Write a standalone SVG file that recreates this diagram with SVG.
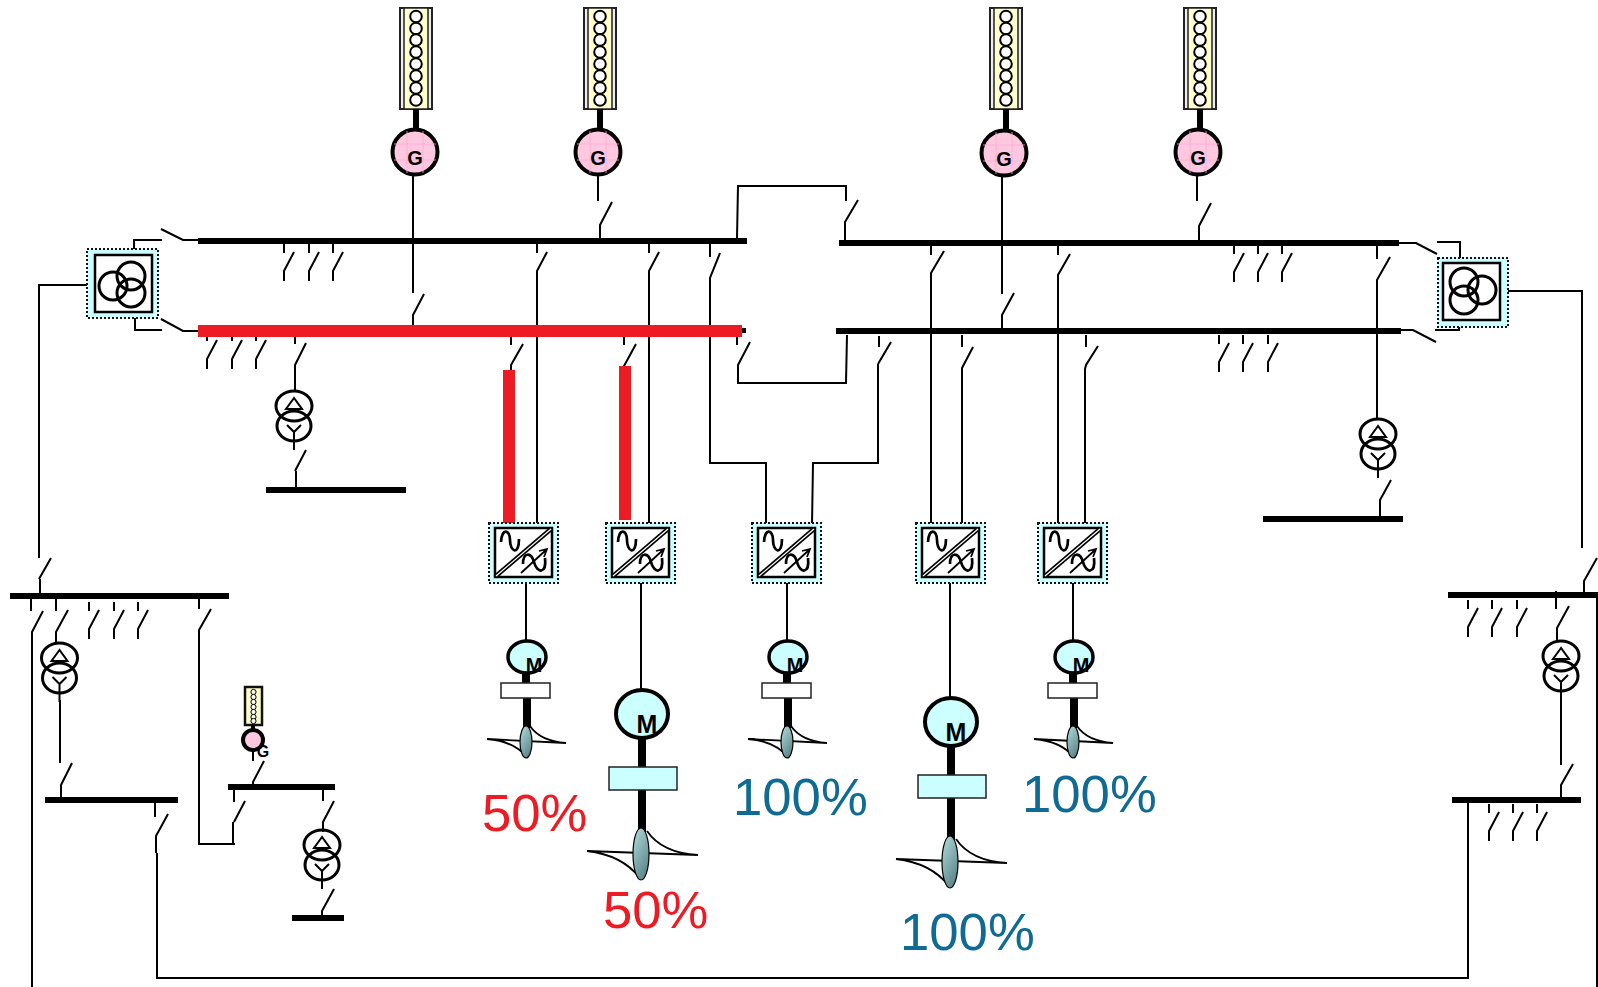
<svg xmlns="http://www.w3.org/2000/svg" width="1598" height="987" viewBox="0 0 1598 987">
<style>
.w{fill:none;stroke:#000;stroke-width:2;stroke-linecap:butt}
.bus{fill:#000}
.red{fill:#ed1c24}
.pct{font-family:"Liberation Sans",Arial,sans-serif;font-size:52.7px}
.r{fill:#ed1c24}.b{fill:#0f6b94}
.lab{font-family:"Liberation Sans",Arial,sans-serif;font-weight:bold;fill:#000;text-anchor:middle}
.c{fill:none;stroke:#000;stroke-width:3}
.dot{fill:#ccffff;stroke:#111;stroke-width:2;stroke-dasharray:2 2}
</style>
<defs>
<linearGradient id="prop" x1="0" y1="0" x2="0.6" y2="1"><stop offset="0" stop-color="#b5dcdc"/><stop offset="1" stop-color="#5d888c"/></linearGradient>
<path id="sw" class="w" d="M0 0V9M10 8L0 27V37"/>
<g id="stack">
<rect x="-16" y="0" width="32" height="101" fill="#eeeeee" stroke="#222" stroke-width="2"/>
<rect x="-12" y="0" width="24" height="101" fill="#ffffcc" stroke="#222" stroke-width="1.500"/>
<g fill="#fff" stroke="#000" stroke-width="2"><circle cy="8.500" r="5.800"/><circle cy="20.500" r="5.800"/><circle cy="32" r="5.800"/><circle cy="44" r="5.800"/><circle cy="56" r="5.800"/><circle cy="68" r="5.800"/><circle cy="80" r="5.800"/><circle cy="92" r="5.800"/></g>
<rect x="-3" y="101" width="6" height="22" fill="#000"/>
</g>
<g id="gen">
<circle r="22.500" fill="#ffc8e1" stroke="#000" stroke-width="4"/>
<path d="M-21 -8H21M-21 8H21M-8 -21V21M8 -21V21" stroke="#ffa8d0" stroke-width="0.800" fill="none"/>
<text class="lab" y="13" font-size="20">G</text>
</g>
<g id="tr">
<ellipse cx="0" cy="0" rx="18" ry="15" class="c"/>
<ellipse cx="0" cy="20" rx="17" ry="15" class="c"/>
<path class="w" d="M0 -8L-8 3H8Z"/>
<path class="w" d="M-7 19L0 26L7 19M0 26V44"/>
</g>
<g id="inv">
<rect x="-6" y="-5" width="69" height="60" class="dot"/>
<rect width="57" height="49" fill="#fff" stroke="#000" stroke-width="2.500"/>
<path d="M1 48L56 1" stroke="#000" stroke-width="4.500"/>
<path d="M1 48L56 1" stroke="#fff" stroke-width="1.200"/>
<path d="M6 14C7 -1 15 2 15 12C15 24 24 28 24 11" fill="none" stroke="#000" stroke-width="2.700"/>
<path d="M28 36C28 24 36 24 39 34C42 46 52 46 50 30" fill="none" stroke="#000" stroke-width="2.700"/>
<path d="M26 45L51 22M44 23L52 21L49 29" fill="none" stroke="#000" stroke-width="1.800"/>
</g>
<g id="mS">
<rect x="-4" y="670" width="8" height="16" fill="#000"/>
<rect x="-3" y="698" width="8" height="30" fill="#000"/>
<ellipse cx="1" cy="657" rx="19" ry="16" fill="#ccffff" stroke="#000" stroke-width="3.500"/>
<text class="lab" x="8" y="672" font-size="20">M</text>
<rect x="-25" y="683" width="49" height="15" fill="#fff" stroke="#222" stroke-width="1.500"/>
<path d="M-39 739L40 743M-39 739Q-12 741 2 758M4 726Q14 741 40 743" fill="none" stroke="#000" stroke-width="1.800"/>
<ellipse cx="0" cy="742" rx="6" ry="16" fill="url(#prop)" stroke="#000" stroke-width="1.200"/>
</g>
<g id="mL">
<rect x="-4" y="735" width="8" height="34" fill="#000"/>
<rect x="-4" y="790" width="8" height="42" fill="#000"/>
<ellipse cx="0" cy="714" rx="26" ry="24" fill="#ccffff" stroke="#000" stroke-width="4"/>
<text class="lab" x="5" y="733" font-size="25">M</text>
<rect x="-33" y="767" width="68" height="23" fill="#ccffff" stroke="#222" stroke-width="1.500"/>
<path d="M-55 851L56 855M-55 851Q-20 855 -2 878M5 831Q20 853 56 855" fill="none" stroke="#000" stroke-width="1.800"/>
<ellipse cx="-1" cy="854" rx="8" ry="26" fill="url(#prop)" stroke="#000" stroke-width="1.200"/>
</g>
</defs>

<g id="connectors">
<path class="w" d="M413 174V293M424 294L413 315V330"/>
<path class="w" d="M598 175V201M612 202L600 225V241"/>
<path class="w" d="M1002 175V294M1014 293L1002 315V328"/>
<path class="w" d="M1197 175V201M1211 203L1199 226V241"/>
<path class="w" d="M737 238L738 186H846V201M858 200L845 222V240"/>
<path class="w" d="M737 336V345M750 342L738 365V384M737 383H846L847 335"/>
<use href="#sw" x="537" y="244"/><path class="w" d="M537 280V523"/>
<use href="#sw" x="649" y="244"/><path class="w" d="M649 280V523"/>
<path class="w" d="M710 241V257M720 253L710 278V463H766V525M812 525L813 463H878V364M891 342L878 364M879 336V347"/>
<path class="w" d="M511 336V345M523 344L511 365V372M624 336V345M636 344L624 366V372"/>
<use href="#sw" x="284" y="244"/><use href="#sw" x="309" y="244"/><use href="#sw" x="333" y="244"/>
<use href="#sw" x="207" y="332"/><use href="#sw" x="232" y="332"/><use href="#sw" x="256" y="332"/>
<path class="w" d="M295 336V344M306 343L295 365V391"/>
<path class="w" d="M306 450L295 471M296 471V488"/>
<path class="w" d="M931 245V255M944 251L931 273V523"/>
<path class="w" d="M1058 245V255M1070 254L1058 275V523"/>
<use href="#sw" x="1234" y="245"/><use href="#sw" x="1258" y="245"/><use href="#sw" x="1282" y="245"/>
<path class="w" d="M1377 245V259M1390 257L1377 280V419"/>
<path class="w" d="M1391 480L1380 500V516"/>
<path class="w" d="M962 335V347M973 347L962 368V523"/>
<path class="w" d="M1086 335V347M1098 346L1086 365L1085 369V523"/>
<use href="#sw" x="1219" y="335"/><use href="#sw" x="1243" y="335"/><use href="#sw" x="1268" y="335"/>
<path class="w" d="M99 285H39V558"/>
<path class="w" d="M39 550V558M51 558L39 579M40 579V594"/>
<path class="w" d="M134 262V240H162M161 229L183 240H198"/>
<path class="w" d="M135 307V330H162M161 319L183 331H198"/>
<path class="w" d="M31 598V611M43 611L32 632V987"/>
<path class="w" d="M56 598V611M68 610L56 632V643"/>
<use href="#sw" x="89" y="602"/><use href="#sw" x="114" y="602"/><use href="#sw" x="138" y="602"/>
<path class="w" d="M199 598V609M211 609L199 630V844H235M233 844V822M245 801L234 822M234 790V802"/>
<path class="w" d="M60 700V763M72 763L61 785V797"/>
<path class="w" d="M155 803V817M168 814L156 836V853M157 853V978H1468V800"/>
<path class="w" d="M253 750V761M264 761L253 782V787"/>
<path class="w" d="M323 790V801M334 801L323 822V832M334 889L322 911V917"/>
<path class="w" d="M1495 291H1582V548M1597 558L1584 581V594"/>
<path class="w" d="M1437 242H1460V268M1460 315L1459 330H1435"/>
<path class="w" d="M1399 243H1416L1437 254M1401 330H1413L1436 342"/>
<use href="#sw" x="1468" y="600"/><use href="#sw" x="1492" y="600"/><use href="#sw" x="1517" y="600"/>
<path class="w" d="M1556 591V609M1569 606L1557 628V641"/>
<path class="w" d="M1561 700V765M1573 764L1561 785V803"/>
<use href="#sw" x="1489" y="804"/><use href="#sw" x="1513" y="804"/><use href="#sw" x="1537" y="804"/>
<path class="w" d="M1597 595V987" stroke-width="2.500"/>
<path class="w" d="M526 583V641M641 583V690M787 583V641M950 583V698M1073 583V641"/>
</g>

<g id="buses">
<rect id="bus-a" class="bus" x="198" y="238" width="549" height="6"/>
<rect id="bus-b" class="bus" x="839" y="240" width="560" height="6"/>
<rect id="bus-c-under" class="bus" x="198" y="328" width="548" height="5"/>
<rect id="bus-c" class="red" x="198" y="325" width="544" height="12"/>
<rect id="bus-d" class="bus" x="836" y="328" width="565" height="6"/>
<rect id="bus-e" class="bus" x="266" y="487" width="140" height="6"/>
<rect id="bus-f" class="bus" x="1263" y="516" width="140" height="6"/>
<rect id="bus-g" class="bus" x="10" y="593" width="219" height="6"/>
<rect id="bus-h" class="bus" x="45" y="797" width="133" height="6"/>
<rect id="bus-i" class="bus" x="228" y="784" width="107" height="6"/>
<rect id="bus-j" class="bus" x="292" y="915" width="52" height="6"/>
<rect id="bus-k" class="bus" x="1448" y="592" width="150" height="6"/>
<rect id="bus-l" class="bus" x="1452" y="797" width="129" height="6"/>
<rect id="feed-red-1" class="red" x="503" y="370" width="12" height="154"/>
<rect id="feed-red-2" class="red" x="619" y="366" width="12" height="154"/>
</g>

<g id="gen1"><use href="#stack" x="416" y="8"/><use href="#gen" x="415" y="152"/></g>
<g id="gen2"><use href="#stack" x="600" y="8"/><use href="#gen" x="598" y="152"/></g>
<g id="gen3"><use href="#stack" x="1006" y="8"/><use href="#gen" x="1004" y="153"/></g>
<g id="gen4"><use href="#stack" x="1200" y="8"/><use href="#gen" x="1198" y="152"/></g>

<g id="gen5">
<rect x="245" y="687" width="17" height="38" fill="#ffffcc" stroke="#111" stroke-width="2.500"/>
<g fill="#fff" stroke="#000" stroke-width="1"><circle cx="253.500" cy="692" r="2.600"/><circle cx="253.500" cy="697" r="2.600"/><circle cx="253.500" cy="702" r="2.600"/><circle cx="253.500" cy="707" r="2.600"/><circle cx="253.500" cy="712" r="2.600"/><circle cx="253.500" cy="717" r="2.600"/><circle cx="253.500" cy="721" r="2.600"/></g>
<rect x="251" y="725" width="4" height="6" fill="#000"/>
<circle cx="253" cy="740" r="10" fill="#ffc8e1" stroke="#000" stroke-width="4"/>
<text class="lab" x="263" y="757" font-size="16">G</text>
</g>

<g id="t3-left">
<rect x="87" y="249" width="71" height="69" class="dot"/>
<rect x="95" y="255" width="57" height="57" fill="#fff" stroke="#000" stroke-width="2.500"/>
<circle class="c" cx="113" cy="286" r="14"/><circle class="c" cx="131" cy="276" r="14"/><circle class="c" cx="131" cy="293" r="14"/>
</g>
<g id="t3-right">
<rect x="1438" y="258" width="70" height="69" class="dot"/>
<rect x="1443" y="263" width="57" height="57" fill="#fff" stroke="#000" stroke-width="2.500"/>
<circle class="c" cx="1464" cy="282" r="14"/><circle class="c" cx="1482" cy="290" r="14"/><circle class="c" cx="1464" cy="300" r="14"/>
</g>

<g id="tr1"><use href="#tr" x="294" y="406"/></g>
<g id="tr2"><use href="#tr" x="1378" y="434"/></g>
<g id="tr3"><use href="#tr" x="59.500" y="658"/></g>
<g id="tr4"><use href="#tr" x="322" y="845"/></g>
<g id="tr5"><use href="#tr" x="1561" y="656"/></g>

<g id="inv1"><use href="#inv" x="495" y="528"/></g>
<g id="inv2"><use href="#inv" x="612" y="528"/></g>
<g id="inv3"><use href="#inv" x="758" y="528"/></g>
<g id="inv4"><use href="#inv" x="922" y="528"/></g>
<g id="inv5"><use href="#inv" x="1044" y="528"/></g>

<g id="motor1"><use href="#mS" x="526" y="0"/></g>
<g id="motor2"><use href="#mL" x="642" y="0"/></g>
<g id="motor3"><use href="#mS" x="787" y="0"/></g>
<g id="motor4"><use href="#mL" x="951" y="8"/></g>
<g id="motor5"><use href="#mS" x="1073" y="0"/></g>

<g id="labels">
<text class="pct r" x="482" y="831">50%</text>
<text class="pct r" x="603" y="928">50%</text>
<text class="pct b" x="733" y="815">100%</text>
<text class="pct b" x="1022" y="812">100%</text>
<text class="pct b" x="900" y="950">100%</text>
</g>
</svg>
